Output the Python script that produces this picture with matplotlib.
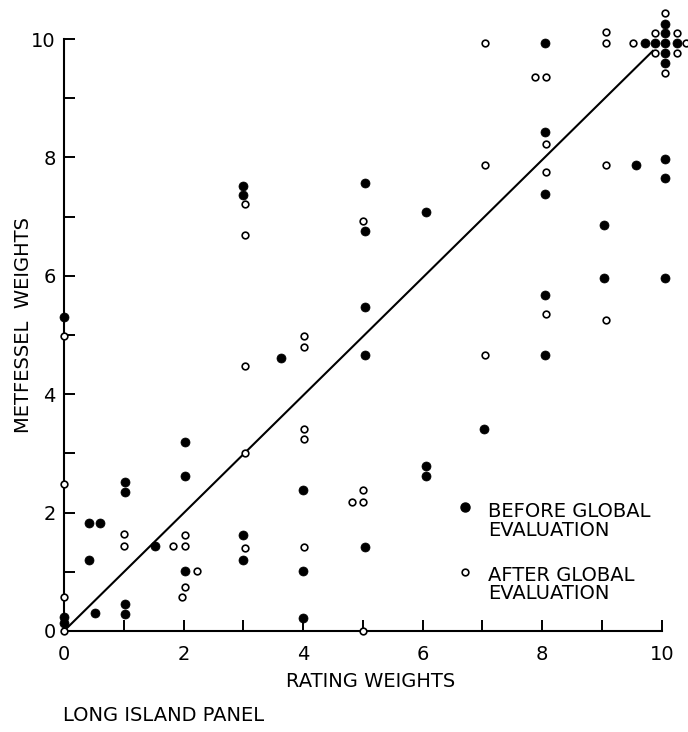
import numpy as np
import matplotlib.pyplot as plt

# rating weight (x) vs Metfessel weight (y), before global evaluation
before_x = [0, 0, 0, 0.42, 0.42, 0.6, 0.52,
            1.02, 1.02, 1.02, 1.02, 1.53,
            2.02, 2.02, 2.02,
            3.0, 3.0, 3.0, 3.0, 3.63,
            4.0, 4.0, 4.0,
            5.03, 5.03, 5.03, 5.03, 5.03,
            6.05, 6.05, 6.05, 7.03,
            8.05, 8.05, 8.05, 8.05, 8.05,
            9.04, 9.04, 9.57, 9.71, 9.88,
            10.06, 10.06, 10.06, 10.06, 10.06, 10.06, 10.06, 10.06, 10.25]
before_y = [5.3, 0.24, 0.14, 1.83, 1.2, 1.83, 0.31,
            2.52, 2.35, 0.46, 0.29, 1.44,
            3.2, 2.61, 1.01,
            7.52, 7.36, 1.62, 1.2, 4.61,
            2.39, 1.01, 0.22,
            7.57, 6.75, 5.48, 4.67, 1.42,
            7.07, 2.79, 2.62, 3.41,
            9.94, 8.43, 7.38, 5.68, 4.66,
            6.85, 5.96, 7.88, 9.94, 9.94,
            10.25, 10.10, 9.94, 9.77, 9.6, 7.97, 7.66, 5.96, 9.94]

# after global evaluation
after_x = [0, 0, 0, 0,
           1.0, 1.0, 1.83, 2.02, 2.02, 2.02, 1.98, 2.22,
           3.03, 3.03, 3.03, 3.03, 3.03,
           4.02, 4.02, 4.02, 4.02, 4.02, 4.82,
           5.0, 5.0, 5.0, 5.0,
           7.05, 7.05, 7.05, 7.88,
           8.06, 8.06, 8.06, 8.06,
           9.06, 9.06, 9.06, 9.06, 9.51,
           9.88, 9.88, 10.06, 10.06, 10.25, 10.25, 10.4]
after_y = [4.98, 2.48, 0.58, 0.0,
           1.63, 1.44, 1.44, 1.62, 1.44, 0.75, 0.57, 1.01,
           7.21, 6.69, 4.47, 3.0, 1.41,
           4.99, 4.80, 3.42, 3.24, 1.42, 2.18,
           6.93, 2.39, 2.18, 0.0,
           9.94, 7.88, 4.66, 9.35,
           9.35, 8.23, 7.75, 5.35,
           10.12, 9.94, 7.88, 5.26, 9.94,
           10.10, 9.77, 10.44, 9.43, 10.10, 9.77, 9.94]

# equal-weights reference line
diag_x = [0, 9.85]
diag_y = [0, 9.8]

major_ticks = [0, 2, 4, 6, 8, 10]
minor_ticks = [1, 3, 5, 7, 9]

plt.rcParams['font.family'] = ['DejaVu Sans']
FS = 14

fig = plt.figure(figsize=(6.88, 7.32), dpi=100)
ax = fig.add_axes([0.093, 0.138, 0.869, 0.8087])

ax.plot(diag_x, diag_y, color='black', lw=1.5, zorder=2)
ax.plot(before_x, before_y, ls='none', marker='o', ms=6.5,
        mfc='black', mec='black', mew=0.5, clip_on=False, zorder=3)
ax.plot(after_x, after_y, ls='none', marker='o', ms=4.8,
        mfc='white', mec='black', mew=1.2, clip_on=False, zorder=4)

ax.set_xlim(0, 10)
ax.set_ylim(0, 10)
for side in ('top', 'right'):
    ax.spines[side].set_visible(False)
for side in ('left', 'bottom'):
    ax.spines[side].set_linewidth(1.5)

ax.set_xticks(major_ticks)
ax.set_yticks(major_ticks)
ax.set_xticks(minor_ticks, minor=True)
ax.set_yticks(minor_ticks, minor=True)
ax.tick_params(which='both', direction='in', length=8, width=1.4, labelsize=FS)
ax.tick_params(axis='x', which='both', pad=10)
ax.tick_params(axis='y', which='both', pad=6)

ax.set_xlabel('RATING WEIGHTS', fontsize=FS)
ax.xaxis.set_label_coords(0.513, -0.069)
ax.set_ylabel('METFESSEL  WEIGHTS', fontsize=FS)
ax.yaxis.set_label_coords(-0.052, 0.517)

# key, lower right
ax.plot([0.67], [0.21], transform=ax.transAxes, ls='none', marker='o', ms=6.5,
        mfc='black', mec='black', clip_on=False)
ax.plot([0.67], [0.10], transform=ax.transAxes, ls='none', marker='o', ms=4.8,
        mfc='white', mec='black', mew=1.2, clip_on=False)
ax.text(0.709, 0.186, 'BEFORE GLOBAL\nEVALUATION', transform=ax.transAxes,
        fontsize=FS, va='center', ha='left', linespacing=0.97)
ax.text(0.709, 0.0785, 'AFTER GLOBAL\nEVALUATION', transform=ax.transAxes,
        fontsize=FS, va='center', ha='left', linespacing=0.97)

fig.text(0.0916, 0.023, 'LONG ISLAND PANEL', fontsize=FS, va='center', ha='left')

fig.savefig('out.png', dpi=100, facecolor='white')
